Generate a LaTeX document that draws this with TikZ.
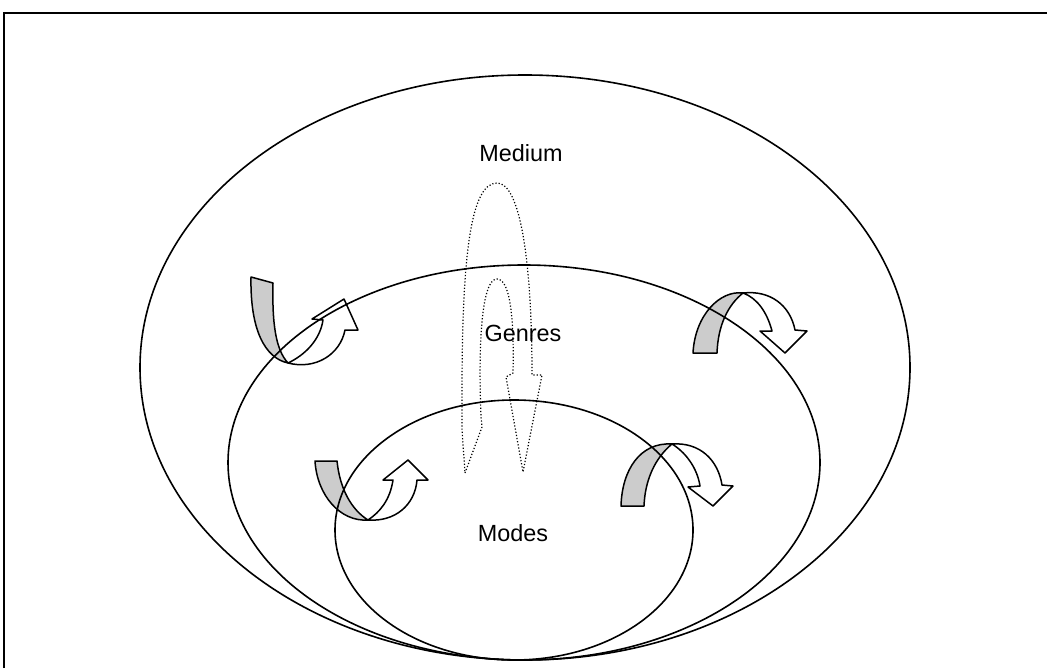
\documentclass[tikz,border=0pt]{standalone}
\usepackage{fontspec}
\setmainfont{Liberation Sans}
\usepackage{xcolor}
\usepackage{tikz}
\usetikzlibrary{shapes,arrows}

\begin{document}
\begin{tikzpicture}[x=0.5pt, y=-0.5pt,
    ring/.style={ellipse, draw, line width=0.8pt, inner sep=0pt},
    lbl/.style={font=\fontsize{11.7}{14}\selectfont, inner sep=1pt},
    band/.style={draw, fill=black!20, line width=0.75pt, line join=round},
    turn/.style={draw, fill=white, line width=0.75pt, line join=round},
    uturn/.style={draw, densely dotted, line width=0.6pt}]

    \useasboundingbox (0,0) rectangle (1047,668);

    % Frame
    \draw [line width=0.9pt] (4,668) -- (4,13) -- (1047,13);

    % Curved arrows
    \path [band] (251,277) -- (273,283) .. controls (272,325) and (276,350) .. (288,363)
        .. controls (265,358) and (250,330) .. (251,277) -- cycle;
    \path [turn] (288,363) .. controls (315,370) and (340,355) .. (345,330) -- (358,330) -- (344,299)
        -- (312,319) -- (323,320) .. controls (320,340) and (305,355) .. (288,363) -- cycle;

    \path [band] (693,353) -- (717,353) .. controls (718,325) and (728,305) .. (743,293)
        .. controls (720,290) and (695,315) .. (693,353) -- cycle;
    \path [turn] (743,293) .. controls (770,290) and (790,305) .. (795,330) -- (807,331) -- (785,353)
        -- (760,331) -- (772,331) .. controls (767,312) and (757,298) .. (743,293) -- cycle;

    \path [band] (315,461) -- (337,461) .. controls (340,490) and (352,510) .. (368,520)
        .. controls (340,522) and (317,495) .. (315,461) -- cycle;
    \path [turn] (368,520) .. controls (395,522) and (415,505) .. (417,480) -- (428,480) -- (408,460)
        -- (383,480) -- (393,480) .. controls (390,500) and (380,512) .. (368,520) -- cycle;

    \path [band] (621,506) -- (644,506) .. controls (645,480) and (655,458) .. (672,444)
        .. controls (640,442) and (622,470) .. (621,506) -- cycle;
    \path [turn] (672,444) .. controls (700,442) and (718,460) .. (722,485) -- (733,486) -- (713,506)
        -- (688,487) -- (700,486) .. controls (697,467) and (685,452) .. (672,444) -- cycle;

    % U-turn arrow
    \path [uturn] (465,473) -- (482,427) -- (481,417) .. controls (478,340) and (482,279) .. (497,279)
        .. controls (512,279) and (514,330) .. (513,373) -- (506,377) -- (523,472) -- (542,375)
        -- (532,375) .. controls (532,260) and (520,183) .. (497,183)
        .. controls (470,183) and (462,260) .. (462,393) -- (462,430) -- cycle;

    % Rings
    \node [ring, minimum width=385pt, minimum height=292.5pt] (medium ring) at (525,367.5) {};
    \node [ring, minimum width=296pt, minimum height=197.5pt] (genres ring) at (524,462.5) {};
    \node [ring, minimum width=179pt, minimum height=130pt] (modes ring) at (514,530) {};

    % Labels
    \node [lbl] (medium) at (521,153) {Medium};
    \node [lbl] (genres) at (523,333) {Genres};
    \node [lbl] (modes) at (513,533) {Modes};

\end{tikzpicture}
\end{document}
